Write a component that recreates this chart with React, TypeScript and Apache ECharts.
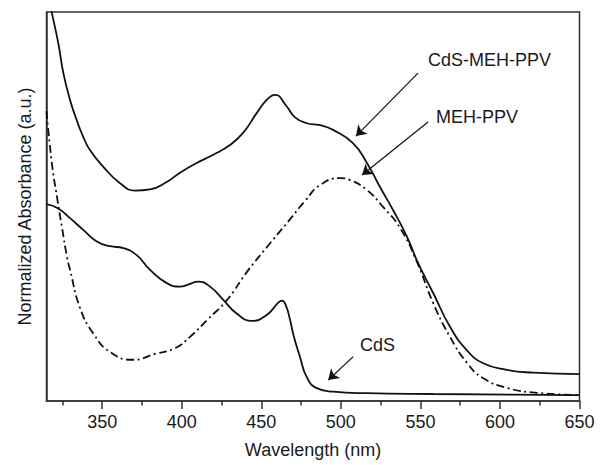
import React, { useEffect, useRef } from "react";
import * as echarts from "echarts";

// CdS-MEH-PPV hybrid (solid, upper)
const hybridNm = [315, 318.3, 322.4, 325.6, 329.8, 334.0, 338.1, 342.3, 350.7, 361.2, 370.6, 380.1, 390.6, 398.9, 409.4, 419.8, 430.3, 438.7, 447.1, 453.4, 458.6, 466.0, 471.2, 478.5, 486.9, 495.1, 507.6, 516.4, 524.6, 532.8, 541.6, 548.5, 558.1, 568.6, 579.1, 589.5, 604.3, 620.9, 650];
const hybridAbs = [1.063, 0.999, 0.92, 0.843, 0.774, 0.722, 0.679, 0.645, 0.602, 0.56, 0.541, 0.544, 0.563, 0.587, 0.612, 0.633, 0.658, 0.69, 0.74, 0.774, 0.787, 0.757, 0.729, 0.714, 0.709, 0.697, 0.663, 0.612, 0.55, 0.491, 0.422, 0.355, 0.277, 0.191, 0.131, 0.097, 0.08, 0.073, 0.069];

// CdS (solid, lower)
const cdsNm = [315, 322.4, 329.8, 338.1, 346.6, 354.9, 363.3, 371.7, 380.1, 390.6, 398.9, 404.5, 410.4, 417.8, 426.1, 434.5, 444.0, 453.4, 460.7, 463.0, 465.5, 468.1, 470.5, 474.3, 478.5, 484.8, 495.3, 516.3, 558, 650];
const cdsAbs = [0.506, 0.495, 0.47, 0.44, 0.41, 0.398, 0.393, 0.375, 0.337, 0.303, 0.294, 0.3, 0.307, 0.294, 0.26, 0.225, 0.206, 0.221, 0.253, 0.258, 0.245, 0.208, 0.165, 0.114, 0.062, 0.033, 0.024, 0.02, 0.018, 0.015];

// MEH-PPV (dash-dot)
const mehNm = [315, 318.5, 321.6, 324.7, 327.9, 329.8, 336.1, 344.2, 354.9, 369.4, 383.2, 395.8, 405.2, 415.9, 428.5, 441.0, 453.6, 466.2, 477.5, 486.9, 499.5, 505.8, 516.5, 526.5, 537.2, 547.9, 558.0, 568.6, 579.3, 589.3, 605.0, 623.3, 650];
const mehAbs = [0.745, 0.607, 0.524, 0.447, 0.37, 0.337, 0.239, 0.175, 0.126, 0.106, 0.121, 0.136, 0.165, 0.208, 0.26, 0.332, 0.396, 0.458, 0.514, 0.555, 0.573, 0.568, 0.542, 0.499, 0.445, 0.357, 0.252, 0.165, 0.098, 0.059, 0.033, 0.021, 0.015];

const majorTicks = [350, 400, 450, 500, 550, 600, 650];
const minorTicks = [325, 375, 425, 475, 525, 575, 625];

// annotations
const noteLabels = ["CdS-MEH-PPV", "MEH-PPV", "CdS"];
const noteTextPos = [[554.8, 0.877], [559.8, 0.731], [512.0, 0.144]];
const noteArrowFrom = [[548.5, 0.843], [554.8, 0.717], [507.8, 0.114]];
const noteArrowTo = [[509.5, 0.681], [513.3, 0.581], [492.1, 0.054]];

const FONT = "'Liberation Sans', Arial, Helvetica, sans-serif";
const TEXT_COLOR = "#1a1a1a";
const FS = 18;

const zip = (xs: number[], ys: number[]) => xs.map((x, i) => [x, ys[i]]);

export default function App() {
  const ref = useRef<HTMLDivElement>(null);
  useEffect(() => {
    if (!ref.current) return;
    const chart = echarts.init(ref.current, undefined, { renderer: "svg" });
    const lineBase = {
      type: "line" as const,
      showSymbol: false,
      symbol: "none",
      smooth: 0.5,
      clip: true,
      silent: true,
      animation: false,
    };
    chart.setOption({
      animation: false,
      textStyle: { fontFamily: FONT },
      grid: {
        left: 46.5,
        right: 23.5,
        top: 12,
        bottom: 64,
        show: true,
        borderColor: "#333",
        borderWidth: 1.5,
        backgroundColor: "transparent",
        outerBoundsMode: "none",
        containLabel: false,
      },
      xAxis: [
        {
          type: "value",
          min: 315,
          max: 650,
          name: "Wavelength (nm)",
          nameLocation: "middle",
          nameGap: 40,
          nameTextStyle: { fontSize: FS, color: TEXT_COLOR, fontFamily: FONT },
          axisLine: { show: true, lineStyle: { color: "#333", width: 1.5 } },
          axisTick: {
            show: true,
            inside: false,
            length: 8,
            customValues: majorTicks,
            lineStyle: { color: "#333", width: 1.5 },
          },
          axisLabel: {
            show: true,
            customValues: majorTicks,
            margin: 12,
            fontSize: FS,
            color: TEXT_COLOR,
            fontFamily: FONT,
          },
          splitLine: { show: false },
          minorTick: { show: false },
        },
        {
          type: "value",
          min: 315,
          max: 650,
          position: "bottom",
          gridIndex: 0,
          axisLine: { show: false },
          axisTick: {
            show: true,
            inside: false,
            length: 4.5,
            customValues: minorTicks,
            lineStyle: { color: "#333", width: 1.5 },
          },
          axisLabel: { show: false },
          splitLine: { show: false },
        },
      ],
      yAxis: {
        type: "value",
        min: 0,
        max: 1,
        name: "Normalized Absorbance (a.u.)",
        nameLocation: "middle",
        nameRotate: 90,
        nameGap: 13,
        nameTextStyle: { fontSize: FS, color: TEXT_COLOR, fontFamily: FONT },
        axisLine: { show: true, lineStyle: { color: "#333", width: 1.5 } },
        axisTick: { show: false },
        axisLabel: { show: false },
        splitLine: { show: false },
      },
      series: [
        {
          ...lineBase,
          name: "CdS-MEH-PPV",
          data: zip(hybridNm, hybridAbs),
          lineStyle: { color: "#111", width: 1.8 },
          markLine: {
            silent: true,
            animation: false,
            symbol: ["none", "triangle"],
            symbolSize: [0, 9],
            label: { show: false },
            lineStyle: { color: "#111", width: 1.2, type: "solid" },
            emphasis: { disabled: true },
            data: noteArrowFrom.map((from, i) => [
              { coord: from, symbol: "none" },
              { coord: noteArrowTo[i], symbol: "arrow", symbolSize: 10 },
            ]),
          },
        },
        {
          ...lineBase,
          name: "CdS",
          data: zip(cdsNm, cdsAbs),
          lineStyle: { color: "#111", width: 1.8 },
        },
        {
          ...lineBase,
          name: "MEH-PPV",
          data: zip(mehNm, mehAbs),
          lineStyle: { color: "#111", width: 1.8, type: [8, 3.5, 2, 3.5] },
        },
      ],
    });

    const graphic = noteLabels.map((label, i) => {
      const [px, py] = chart.convertToPixel({ gridIndex: 0 }, noteTextPos[i]) as number[];
      return {
        type: "text",
        x: px,
        y: py,
        silent: true,
        style: {
          text: label,
          font: `${FS}px ${FONT}`,
          fill: TEXT_COLOR,
          textAlign: "left",
          textVerticalAlign: "middle",
          align: "left",
          verticalAlign: "middle",
        },
      };
    });
    chart.setOption({ graphic });

    return () => chart.dispose();
  }, []);
  return (
    <div
      ref={ref}
      style={{ position: "fixed", left: 0, top: 0, width: 603, height: 465, background: "#fff" }}
    />
  );
}
